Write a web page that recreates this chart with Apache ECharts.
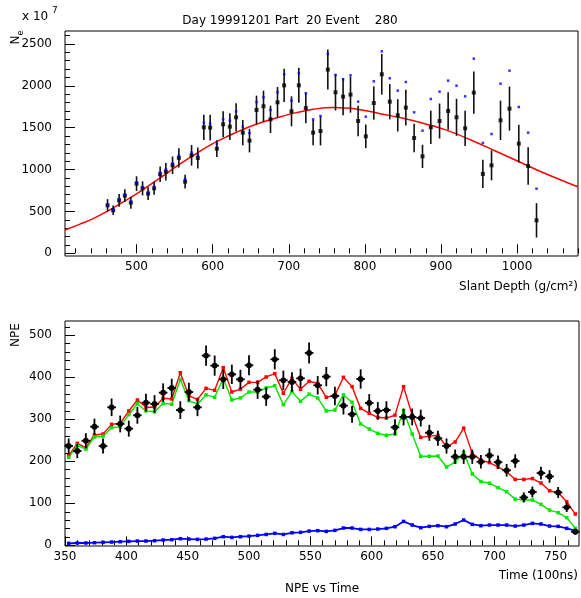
<!DOCTYPE html>
<html>
<head>
<meta charset="utf-8">
<script src="https://cdn.jsdelivr.net/npm/echarts@6/dist/echarts.min.js"></script>
<style>
html,body{margin:0;padding:0;background:#fff;}
#chart{width:581px;height:598px;}
</style>
</head>
<body>
<div id="chart"></div>
<script>
/* top panel: shower size vs slant depth */
var depth = [461.9,469.3,477.1,484.6,492.5,500,507.9,515.2,523.1,531.0,538.5,547.3,555.6,563.8,572.3,580.5,588.4,596.7,605.5,613.8,
  622.6,630.8,639.6,648.4,657.6,666.8,676.0,685.2,693.9,703.6,713.2,722.4,732.0,741.7,751.3,761.4,771.4,781.1,791.1,801.2,
  811.7,822.2,832.7,843.2,853.8,864.7,875.7,886.6,898.1,909.4,920.4,931.7,943.1,955.0,966.4,978.2,990.0,1002.2,1014.5,1025.5];
var nE = [573,514,633,689,605,832,776,713,776,944,975,1051,1139,856,1170,1139,1505,1501,1250,1541,
  1513,1624,1441,1346,1712,1756,1600,1803,2006,1696,2006,1736,1441,1461,2194,1923,1871,1895,1580,1397,
  1795,2138,1811,1648,1740,1377,1158,1505,1580,1700,1624,1493,1919,948,1051,1588,1728,1310,1043,394];
var nEerr = [74,56,76,76,72,88,84,76,78,92,104,105,115,82,123,125,151,153,101,155,
  161,169,151,141,171,187,163,183,199,179,209,183,151,173,239,217,223,215,183,141,
  199,243,211,193,213,171,139,199,209,225,221,211,253,169,179,235,263,225,223,205];
// blue dots
var nEraw = [581,521,645,700,617,848,792,728,796,963,1003,1075,1166,888,1202,1174,1560,1549,1306,1600,
  1584,1696,1513,1437,1807,1863,1712,1923,2138,1823,2150,1911,1600,1640,2381,2130,2078,2126,1811,1632,
  2054,2412,2090,1943,2046,1684,1465,1843,1931,2062,2002,1875,2325,1318,1425,2026,2181,1748,1441,772];
// red fit curve
var fitDepth = [406,425,443,462,487,509,531,552,574,596,618,645,666,688,710,732,757,780,800,820,849,880,910,940,970,1002,1033,1055,1080];
var fitN = [279,346,414,505,637,764,900,1035,1166,1290,1390,1500,1568,1628,1680,1720,1742,1732,1706,1668,1616,1545,1462,1350,1228,1097,968,885,795];

var depthMajor = [500,600,700,800,900,1000];
var depthMinor = [420,440,460,480,520,540,560,580,620,640,660,680,720,740,760,780,820,840,860,880,920,940,960,980,1020,1040,1060,1080];
var nMajor = [0,500,1000,1500,2000,2500];
var nMinor = [100,200,300,400,600,700,800,900,1100,1200,1300,1400,1600,1700,1800,1900,2100,2200,2300,2400,2600];

/* bottom panel: NPE vs time */
var time = [353,360,367,374,381,388,395,402,409,416,423,430,437,444,451,458,465,472,479,486,
  493,500,507,514,521,528,535,542,549,556,563,570,577,584,591,598,605,612,619,626,
  633,640,647,654,661,668,675,682,689,696,703,710,717,724,731,738,745,752,759,766];
var npe = [236.5,224.6,249,282.5,236.5,328.6,289,277.8,309.5,339.7,336.5,363.5,374.6,322,365,328.6,451.6,427.8,395.2,407,
  395,428.6,370.6,354,442.9,392.9,388.9,397.6,458,381,401.6,355.6,332.5,312,396,339,320,322,281,305.6,
  305.6,303,268,254.8,236.5,211,211,211,199,214,198,178.6,200.8,114,127,172,164,126,90.5,32.5];
var npeErr = [18,17,18,19,18,21,20,19,20,21,21,22,22,21,22,21,24,24,23,23,
  23,24,22,22,24,23,23,23,25,22,23,22,21,20,23,21,21,21,19,20,
  20,20,19,18,18,17,17,17,16,17,16,15,16,12,13,15,15,13,11,7];
var npeTotal = [213.5,242.9,232.5,262.7,265,288,290.5,319.8,346,328.6,328.6,350,348.4,411,355.6,347.6,373.8,369,423,365,
  372,388,388,400.8,408.7,362,397.6,371.4,390.5,385.7,352.4,357,400,377.8,326,314.3,304.8,303,310,377.8,
  310,257,260,261.9,235,246,279,219,203,197,187,175.4,157,157,159,148.4,130,125,104,74.6];
var npeFluor = [209.5,238,229,258,260,280,282,311,337,320,318,338,335.7,395,344.4,336,358,352.4,397.6,346,
  351,365,365,374.6,380,335,365.9,342.9,360,350.8,319.8,322,358,340.5,289,277,266.7,262,265,320.6,
  265,212,212,212.7,186.5,198,221,170,152,148,137.3,127.8,110,108,108,97.6,84,77.8,65.9,40.5];
var npeCher = [4.8,5.6,5.6,6.3,7.1,7.9,8.7,9.5,10.3,10.3,11.1,12.7,13.5,15.9,15.1,14.3,15,16.7,20.6,19,
  20.6,22,23.8,26,28.6,26,30,31,34,35,33.3,35.7,41.3,41.3,38,38,38.9,40.5,44.4,57,
  48.4,42,45.2,46.8,44.4,50.8,60.3,50,46.8,48.4,48.4,48.4,46,48.4,52.4,50.8,46,45.2,40.5,34.9];

var timeMajor = [350,400,450,500,550,600,650,700,750];
var timeMinor = [360,370,380,390,410,420,430,440,460,470,480,490,510,520,530,540,560,570,580,590,
  610,620,630,640,660,670,680,690,710,720,730,740,760];
var npeMajor = [0,100,200,300,400,500];
var npeMinor = [20,40,60,80,120,140,160,180,220,240,260,280,320,340,360,380,420,440,460,480,520];

var FONT = 'DejaVu Sans';

function zip(a, b){
  var out = [];
  for (var i = 0; i < a.length; i++) out.push([a[i], b[i]]);
  return out;
}

function axis(grid, min, max, major, minor, tickLen, labels, isY){
  return {
    type:'value', gridIndex:grid, min:min, max:max,
    axisLine:{show:false},
    splitLine:{show:false},
    axisTick:{show:true, inside:true, length:tickLen, customValues: labels ? major : minor,
      lineStyle:{color:'#000', width:1}},
    axisLabel:{show:labels, customValues:major, color:'#000', fontFamily:FONT, fontSize:12,
      margin: isY ? 13 : 5,
      formatter:function(v){ return String(v); }}
  };
}

var topRect = {left:65, top:31, width:513, height:225};
var botRect = {left:65, top:321, width:514, height:225};

var chart = echarts.init(document.getElementById('chart'));

var option = {
  animation:false,
  backgroundColor:'#fff',
  grid:[
    {left:topRect.left, top:topRect.top, width:topRect.width, height:topRect.height, show:true, borderColor:'#000', borderWidth:1},
    {left:botRect.left, top:botRect.top, width:botRect.width, height:botRect.height, show:true, borderColor:'#000', borderWidth:1},
    {left:topRect.left, top:topRect.top, width:topRect.width, height:topRect.height},
    {left:botRect.left, top:botRect.top, width:botRect.width, height:botRect.height}
  ],
  xAxis:[
    axis(0, 406, 1080, depthMajor, depthMinor, 9, true, false),
    axis(1, 350, 769, timeMajor, timeMinor, 9, true, false),
    axis(2, 406, 1080, depthMajor, depthMinor, 5, false, false),
    axis(3, 350, 769, timeMajor, timeMinor, 5, false, false)
  ],
  yAxis:[
    axis(0, -32, 2655, nMajor, nMinor, 10, true, true),
    axis(1, -1.5, 534, npeMajor, npeMinor, 10, true, true),
    axis(2, -32, 2655, nMajor, nMinor, 5, false, true),
    axis(3, -1.5, 534, npeMajor, npeMinor, 5, false, true)
  ],
  graphic:[
    {type:'text', x:290, y:21, style:{text:'Day 19991201 Part  20 Event    280', font:'12px ' + FONT, fill:'#000', align:'center', verticalAlign:'middle'}},
    {type:'text', x:22, y:17, style:{text:'x 10', font:'12px ' + FONT, fill:'#000', align:'left', verticalAlign:'middle'}},
    {type:'text', x:52, y:11, style:{text:'7', font:'9px ' + FONT, fill:'#000', align:'left', verticalAlign:'middle'}},
    {type:'text', x:16, y:40, rotation:Math.PI/2, style:{text:'N', font:'12px ' + FONT, fill:'#000', align:'center', verticalAlign:'middle'}},
    {type:'text', x:21, y:33, rotation:Math.PI/2, style:{text:'e', font:'8px ' + FONT, fill:'#000', align:'center', verticalAlign:'middle'}},
    {type:'text', x:578, y:287, style:{text:'Slant Depth (g/cm\u00b2)', font:'12px ' + FONT, fill:'#000', align:'right', verticalAlign:'middle'}},
    {type:'text', x:16, y:335, rotation:Math.PI/2, style:{text:'NPE', font:'12px ' + FONT, fill:'#000', align:'center', verticalAlign:'middle'}},
    {type:'text', x:578, y:576, style:{text:'Time (100ns)', font:'12px ' + FONT, fill:'#000', align:'right', verticalAlign:'middle'}},
    {type:'text', x:322, y:589, style:{text:'NPE vs Time', font:'12px ' + FONT, fill:'#000', align:'center', verticalAlign:'middle'}}
  ],
  series:[
    // fit
    {type:'line', xAxisIndex:0, yAxisIndex:0, data:zip(fitDepth, fitN), smooth:0.4, showSymbol:false,
      lineStyle:{color:'#ff0000', width:1.5}, z:1, silent:true},
    // error bars
    {type:'custom', xAxisIndex:0, yAxisIndex:0, silent:true, z:2,
      data: depth.map(function(d, i){ return [d, nE[i] - nEerr[i], nE[i] + nEerr[i]]; }),
      encode:{x:0, y:[1,2]},
      renderItem:function(params, api){
        var lo = api.coord([api.value(0), api.value(1)]);
        var hi = api.coord([api.value(0), api.value(2)]);
        return {type:'line', shape:{x1:lo[0], y1:lo[1], x2:hi[0], y2:hi[1]}, style:{stroke:'#111', lineWidth:1.6}};
      }},
    {type:'scatter', xAxisIndex:0, yAxisIndex:0, data:zip(depth, nE), symbol:'rect', symbolSize:4,
      itemStyle:{color:'#000'}, z:3, silent:true},
    {type:'scatter', xAxisIndex:0, yAxisIndex:0, data:zip(depth, nEraw), symbol:'rect', symbolSize:2.5,
      itemStyle:{color:'#0000ff'}, z:3, silent:true},

    // bottom panel lines
    {type:'line', xAxisIndex:1, yAxisIndex:1, data:zip(time, npeTotal), symbol:'rect', symbolSize:3.5,
      lineStyle:{color:'#ff0000', width:1.4}, itemStyle:{color:'#ff0000'}, z:2, silent:true},
    {type:'line', xAxisIndex:1, yAxisIndex:1, data:zip(time, npeFluor), symbol:'rect', symbolSize:3.5,
      lineStyle:{color:'#00e600', width:1.4}, itemStyle:{color:'#00e600'}, z:2, silent:true},
    {type:'line', xAxisIndex:1, yAxisIndex:1, data:zip(time, npeCher), symbol:'rect', symbolSize:3.5,
      lineStyle:{color:'#0000ff', width:1.8}, itemStyle:{color:'#0000ff'}, z:2, silent:true},
    // measured points with error crosses
    {type:'custom', xAxisIndex:1, yAxisIndex:1, silent:true, z:4,
      data: time.map(function(t, i){ return [t, npe[i], npeErr[i]]; }),
      encode:{x:0, y:1},
      renderItem:function(params, api){
        var t = api.value(0), v = api.value(1), e = api.value(2);
        var c = api.coord([t, v]);
        var lo = api.coord([t, v - e]);
        var hi = api.coord([t, v + e]);
        var l = api.coord([t - 3.5, v]);
        var r = api.coord([t + 3.5, v]);
        return {type:'group', children:[
          {type:'line', shape:{x1:lo[0], y1:lo[1], x2:hi[0], y2:hi[1]}, style:{stroke:'#000', lineWidth:1.8}},
          {type:'line', shape:{x1:l[0], y1:l[1], x2:r[0], y2:r[1]}, style:{stroke:'#000', lineWidth:1.8}},
          {type:'circle', shape:{cx:c[0], cy:c[1], r:2.9}, style:{fill:'#000'}}
        ]};
      }}
  ]
};

chart.setOption(option);
</script>
</body>
</html>
